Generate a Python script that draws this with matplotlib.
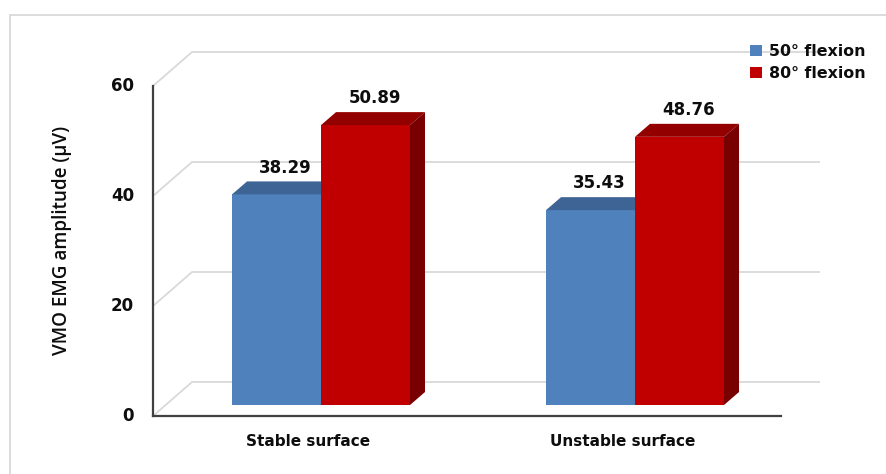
import matplotlib
matplotlib.use("Agg")
import matplotlib.pyplot as plt
from matplotlib.patches import Polygon, Rectangle, Patch

# Data
categories = ["Stable surface", "Unstable surface"]
series_names = ["50° flexion", "80° flexion"]
values_50 = [38.29, 35.43]
values_80 = [50.89, 48.76]
y_ticks = [0, 20, 40, 60]
y_label = "VMO EMG amplitude (µV)"

# Face colours: front, top, side
front_colors = ["#4F81BD", "#C00000"]
top_colors = ["#3D6494", "#920000"]
side_colors = ["#345582", "#780000"]

W, H, DPI = 887, 474, 100
fig = plt.figure(figsize=(W / DPI, H / DPI), dpi=DPI)
ax = fig.add_axes([0, 0, 1, 1])
ax.set_xlim(-1.0223, 1.8025)
ax.set_ylim(-12.545, 73.636)
ax.axis("off")

# Oblique 3-D geometry (category units on x, value units on y)
bar_w = 0.2834          # width of one bar
depth_dx, depth_dy = 0.1242, 6.18   # full depth of the box
front_frac = 0.3235     # bars sit this far back into the box
bar_dx, bar_dy = 0.0478, 2.36       # depth of each bar
fx, fy = -front_frac * depth_dx, -front_frac * depth_dy
bx, by = (1 - front_frac) * depth_dx, (1 - front_frac) * depth_dy
axis_left = -0.535 - fx   # in bar-plane coords
wall_right = 1.589 - bx

grid_col = "#D9D9D9"
axis_col = "#404040"
text_col = "#0D0D0D"

# Walls: side wall diagonals + back wall gridlines
for t in y_ticks:
    ax.plot([axis_left + fx, axis_left + bx, wall_right + bx],
            [t + fy, t + by, t + by],
            color=grid_col, lw=1.3, solid_capstyle="butt", zorder=1)

# Front axes
ax.plot([axis_left + fx, axis_left + fx], [y_ticks[0] + fy, y_ticks[-1] + fy],
        color=axis_col, lw=1.6, zorder=2)
ax.plot([axis_left + fx, wall_right + fx], [fy, fy],
        color=axis_col, lw=1.6, zorder=2)

for t in y_ticks:
    ax.text(axis_left + fx - 0.0605, t + fy, f"{t}", ha="right", va="center",
            fontsize=12, fontweight="bold", family="DejaVu Sans", color=text_col)

ax.text(-0.825, 30, y_label, rotation=90, ha="center", va="center",
        fontsize=13.6, fontweight="semibold", family="Open Sans", color=text_col)

# Bars
series = [values_50, values_80]
z = 3
for i, cat in enumerate(categories):
    for j, vals in enumerate(series):
        v = vals[i]
        left = i - bar_w + j * bar_w
        right = left + bar_w
        ax.add_patch(Rectangle((left, 0), bar_w, v, facecolor=front_colors[j],
                               edgecolor="none", zorder=z))
        ax.add_patch(Polygon([(left, v), (right, v), (right + bar_dx, v + bar_dy),
                              (left + bar_dx, v + bar_dy)], closed=True,
                             facecolor=top_colors[j], edgecolor="none", zorder=z))
        ax.add_patch(Polygon([(right, 0), (right + bar_dx, bar_dy),
                              (right + bar_dx, v + bar_dy), (right, v)], closed=True,
                             facecolor=side_colors[j], edgecolor="none", zorder=z))
        z += 1
        ax.text(left + bar_w / 2 + bar_dx / 2 + 0.005, v + bar_dy + 2.5, f"{v:.2f}",
                ha="center", va="center", fontsize=12, fontweight="bold",
                family="DejaVu Sans", color=text_col, zorder=20)
    ax.text(i + fx, -6.55, cat, ha="center", va="center", fontsize=11,
            fontweight="bold", family="DejaVu Sans", color=text_col)

# Legend
handles = [Patch(facecolor=c, edgecolor="none") for c in front_colors]
leg = ax.legend(handles, series_names, loc="upper left",
                bbox_to_anchor=(750 / W, 1 - 44 / H), frameon=False,
                prop={"family": "DejaVu Sans", "weight": "bold", "size": 11.4},
                handlelength=0.75, handleheight=0.75, handletextpad=0.45,
                labelspacing=0.45, borderpad=0, borderaxespad=0)
for txt in leg.get_texts():
    txt.set_color(text_col)

# Chart frame
fig.patches.append(Rectangle((10 / W, -0.1), 2, 1 - 15 / H + 0.1,
                             transform=fig.transFigure, fill=False,
                             edgecolor="#D9D9D9", lw=1.3, zorder=0))

fig.savefig("out.png", dpi=DPI, facecolor="white")
